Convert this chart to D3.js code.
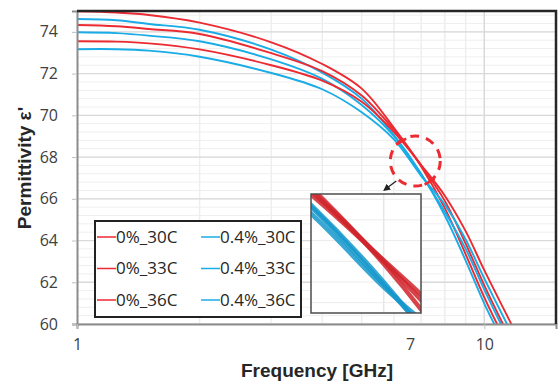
<!DOCTYPE html>
<html>
<head>
<meta charset="utf-8">
<script src="https://cdn.jsdelivr.net/npm/d3@7"></script>
<style>
  body { margin: 0; background: #fff; }
  text { font-family: "Open Sans", sans-serif; }
</style>
</head>
<body>
<div id="chart"></div>
<script>
// permittivity vs frequency, 6 samples (0% / 0.4%, 30-36C)

// frequency points [GHz]
const freqs = [1, 1.25, 1.5, 2, 3, 4, 5, 6, 7, 8, 9, 10];

// permittivity at those frequencies
const eps0_30  = [74.98, 74.92, 74.81, 74.44, 73.50, 72.46, 71.28, 69.40, 67.55, 65.55, 63.34, 61.28];
const eps04_30 = [74.62, 74.56, 74.38, 74.10, 73.15, 72.05, 70.80, 69.05, 67.20, 65.20, 63.04, 60.98];
const eps0_33  = [74.33, 74.27, 74.14, 73.90, 72.98, 72.12, 70.95, 69.30, 67.60, 65.90, 63.85, 61.85];
const eps04_33 = [73.98, 73.94, 73.82, 73.55, 72.68, 71.75, 70.50, 69.00, 67.15, 65.38, 63.60, 61.65];
const eps0_36  = [73.55, 73.53, 73.45, 73.16, 72.40, 71.66, 70.65, 69.20, 67.62, 66.15, 64.45, 62.58];
const eps04_36 = [73.17, 73.17, 73.10, 72.81, 72.03, 71.25, 70.15, 68.85, 67.10, 65.72, 64.05, 62.18];

// frequency where each curve reaches 60
const endFreq = [10.75, 10.58, 11.11, 10.98, 11.65, 11.37];

const seriesNames = ["0%_30C", "0.4%_30C", "0%_33C", "0.4%_33C", "0%_36C", "0.4%_36C"];
const seriesVals = [eps0_30, eps04_30, eps0_33, eps04_33, eps0_36, eps04_36];

const yTicks = [60, 62, 64, 66, 68, 70, 72, 74];
const xTicks = [1, 7, 10];

// annotation (data units)
const zoomMarks = [[6.25, 68.74], [7.34, 66.82]];
const zoomCircle = [6.77, 67.81];

var width = 558;
var height = 391;

var svg = d3.select("#chart").append("svg")
    .attr("width", width)
    .attr("height", height);

var x = d3.scaleLog().domain([1, 15]).range([77, 556]);
var y = d3.scaleLinear().domain([60, 75]).range([324, 11]);

var color = d3.scaleOrdinal()
    .domain(seriesNames)
    .range(["#ec2a31", "#19ace6", "#ec2a31", "#19ace6", "#ec2a31", "#19ace6"]);

var series = seriesNames.map(function(name, i) {
  var pts = freqs.map(function(f, j) { return { f: f, v: seriesVals[i][j] }; });
  pts.push({ f: endFreq[i], v: 60 });
  return { name: name, values: pts };
});

svg.append("clipPath").attr("id", "plotclip")
  .append("rect")
    .attr("x", 77).attr("y", 11)
    .attr("width", 479).attr("height", 313);

// GRID
var grid = svg.append("g").attr("class", "grid");
var minorY = d3.range(0, 38).map(function(k) { return +(60 + k * 0.4).toFixed(1); });

grid.selectAll(".hminor")
  .data(minorY).enter().append("line")
    .attr("x1", 77).attr("x2", 556)
    .attr("y1", function(d) { return y(d); })
    .attr("y2", function(d) { return y(d); })
    .attr("stroke", "#efefef").attr("stroke-width", 1);

grid.selectAll(".vminor")
  .data([2, 3, 4, 5, 6, 7, 8, 9]).enter().append("line")
    .attr("x1", function(d) { return x(d); })
    .attr("x2", function(d) { return x(d); })
    .attr("y1", 11).attr("y2", 324)
    .attr("stroke", "#eeeeee").attr("stroke-width", 1.5);

grid.selectAll(".hmajor")
  .data(yTicks).enter().append("line")
    .attr("x1", 77).attr("x2", 556)
    .attr("y1", function(d) { return y(d); })
    .attr("y2", function(d) { return y(d); })
    .attr("stroke", "#d9d9d9").attr("stroke-width", 1.3);

grid.append("line")
    .attr("x1", x(10)).attr("x2", x(10))
    .attr("y1", 11).attr("y2", 324)
    .attr("stroke", "#d9d9d9").attr("stroke-width", 1.5);

// CURVES
var line = d3.line()
    .x(function(d) { return x(d.f); })
    .y(function(d) { return y(d.v); })
    .curve(d3.curveCatmullRom.alpha(0.5));

svg.append("g")
    .attr("clip-path", "url(#plotclip)")
  .selectAll("path")
  .data(series).enter().append("path")
    .attr("d", function(d) { return line(d.values); })
    .attr("fill", "none")
    .attr("stroke", function(d) { return color(d.name); })
    .attr("stroke-width", 1.9);

// AXES
var yAxis = svg.append("g")
    .attr("transform", "translate(77,0)")
    .call(d3.axisLeft(y).tickValues(yTicks).tickSize(5).tickPadding(14).tickFormat(d3.format("d")));

var xAxis = svg.append("g")
    .attr("transform", "translate(0,324)")
    .call(d3.axisBottom(x).tickValues(xTicks).tickSize(5).tickPadding(10).tickFormat(d3.format("d")));

[yAxis, xAxis].forEach(function(ax) {
  ax.select(".domain").attr("stroke", "#8c8c8c").attr("stroke-width", 2);
  ax.selectAll(".tick line").attr("stroke", "#bfbfbf");
  ax.selectAll(".tick text")
    .attr("fill", "#404040")
    .style("font-size", "16px");
});

// the "7" label sits a little left of its grid line in the original
xAxis.selectAll(".tick")
  .filter(function(d) { return d === 7; })
  .each(function() {
    d3.select(this).select("line").remove();
    d3.select(this).select("text").attr("dx", -11);
  });

// dark frame on top and right
svg.append("path")
    .attr("d", "M77,11H556V324")
    .attr("fill", "none")
    .attr("stroke", "#262626")
    .attr("stroke-width", 2.5);

// axis titles
svg.append("text")
    .attr("x", 317).attr("y", 377)
    .attr("text-anchor", "middle")
    .style("font-family", "'Liberation Sans', Arial, sans-serif")
    .style("font-weight", "bold")
    .style("font-size", "19px")
    .attr("fill", "#262626")
    .text("Frequency [GHz]");

svg.append("text")
    .attr("transform", "translate(31,168) rotate(-90)")
    .attr("text-anchor", "middle")
    .style("font-family", "'Liberation Sans', Arial, sans-serif")
    .style("font-weight", "bold")
    .style("font-size", "19px")
    .attr("fill", "#262626")
    .text("Permittivity ε'");

// LEGEND
var legend = svg.append("g").attr("class", "legend");

legend.append("rect")
    .attr("x", 95).attr("y", 221)
    .attr("width", 206).attr("height", 96)
    .attr("fill", "#fff")
    .attr("stroke", "#222")
    .attr("stroke-width", 2);

var items = legend.selectAll(".item")
  .data(series).enter().append("g")
    .attr("transform", function(d, i) {
      var col = i % 2, row = Math.floor(i / 2);
      return "translate(" + (97 + col * 104) + "," + (237 + row * 31.5) + ")";
    });

items.append("line")
    .attr("x1", 0).attr("x2", 19)
    .attr("stroke", function(d) { return color(d.name); })
    .attr("stroke-width", 1.5);

items.append("text")
    .attr("x", 19)
    .attr("dy", "0.35em")
    .attr("fill", "#262626")
    .style("font-size", "17px")
    .text(function(d) { return d.name; });

// INSET (magnified crossing region)
var xIn = d3.scaleLog().domain([6.2, 7.45]).range([311, 421]);
var yIn = d3.scaleLinear().domain([66.6, 68.9]).range([313, 194]);

svg.append("clipPath").attr("id", "insetclip")
  .append("rect")
    .attr("x", 311).attr("y", 194)
    .attr("width", 110).attr("height", 119);

var inset = svg.append("g");

inset.append("rect")
    .attr("x", 311).attr("y", 194)
    .attr("width", 110).attr("height", 119)
    .attr("fill", "#fff");

var insetGrid = inset.append("g").attr("clip-path", "url(#insetclip)");
insetGrid.selectAll(".ih")
  .data(minorY).enter().append("line")
    .attr("x1", 311).attr("x2", 421)
    .attr("y1", function(d) { return yIn(d); })
    .attr("y2", function(d) { return yIn(d); })
    .attr("stroke", "#ececec");
insetGrid.selectAll(".iv")
  .data([7]).enter().append("line")
    .attr("x1", function(d) { return xIn(d); })
    .attr("x2", function(d) { return xIn(d); })
    .attr("y1", 194).attr("y2", 313)
    .attr("stroke", "#e6e6e6").attr("stroke-width", 1.5);

var lineIn = d3.line()
    .x(function(d) { return xIn(d.f); })
    .y(function(d) { return yIn(d.v); })
    .curve(d3.curveCatmullRom.alpha(0.5));

insetGrid.selectAll(".iline")
  .data(series).enter().append("path")
    .attr("d", function(d) { return lineIn(d.values); })
    .attr("fill", "none")
    .attr("stroke", function(d) { return d3.color(color(d.name)).darker(0.35); })
    .attr("stroke-width", 4.5)
    .attr("stroke-opacity", 0.85);

inset.append("rect")
    .attr("x", 311).attr("y", 194)
    .attr("width", 110).attr("height", 119)
    .attr("fill", "none")
    .attr("stroke", "#4d4d4d")
    .attr("stroke-width", 1.5);

// dashed circle, marks and arrow
var cx = x(zoomCircle[0]), cy = y(zoomCircle[1]);

svg.append("circle")
    .attr("cx", cx).attr("cy", cy).attr("r", 25)
    .attr("fill", "none")
    .attr("stroke", "#ec2a31")
    .attr("stroke-width", 3)
    .attr("stroke-dasharray", "9,7");

svg.selectAll(".zmark")
  .data(zoomMarks).enter().append("line")
    .attr("x1", function(d) { return x(d[0]) - 5; })
    .attr("y1", function(d) { return y(d[1]) + 3; })
    .attr("x2", function(d) { return x(d[0]) + 5; })
    .attr("y2", function(d) { return y(d[1]) - 3; })
    .attr("stroke", "#ec2a31")
    .attr("stroke-width", 2.5);

svg.append("defs").append("marker")
    .attr("id", "arrowhead")
    .attr("viewBox", "0 0 10 10")
    .attr("refX", 8).attr("refY", 5)
    .attr("markerWidth", 6).attr("markerHeight", 6)
    .attr("orient", "auto")
  .append("path")
    .attr("d", "M0,0L10,5L0,10z")
    .attr("fill", "#222");

svg.append("line")
    .attr("x1", cx - 19).attr("y1", cy + 20)
    .attr("x2", cx - 31).attr("y2", cy + 29)
    .attr("stroke", "#222")
    .attr("stroke-width", 1.2)
    .attr("marker-end", "url(#arrowhead)");
</script>
</body>
</html>
